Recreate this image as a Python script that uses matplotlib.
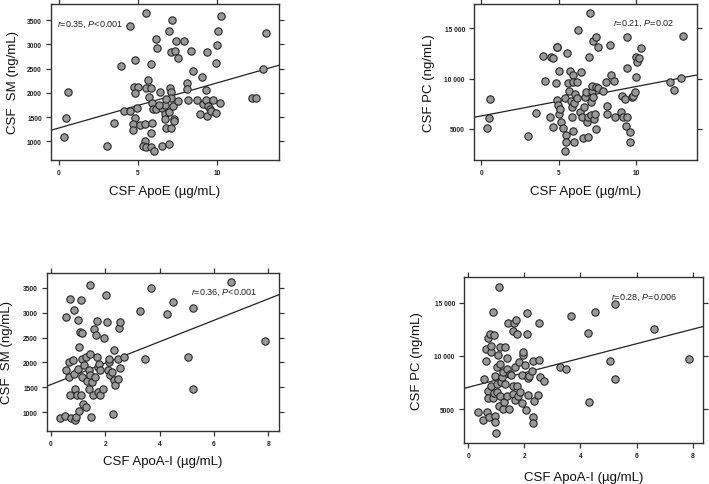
import numpy as np
import matplotlib
matplotlib.use('Agg')
import matplotlib.pyplot as plt

plt.rcParams['font.family'] = ['Liberation Sans', 'DejaVu Sans']
plt.rcParams['mathtext.fontset'] = 'custom'
plt.rcParams['mathtext.rm'] = 'Liberation Sans'
plt.rcParams['mathtext.it'] = 'Liberation Sans:italic'

# --- data ---
# (a) CSF ApoE vs CSF SM
apoe_sm_x = [0.32, 0.46, 0.57, 3.04, 3.46, 3.95, 4.47, 4.09, 4.47, 4.83, 4.73, 5.0, 4.78, 4.96,
             4.79, 4.68, 4.68, 5.1, 5.49, 5.53, 5.63, 5.67, 5.46, 5.8, 5.84, 5.91, 5.95, 5.91,
             5.84, 5.42, 5.32, 5.53, 5.84, 5.99, 6.16, 6.2, 6.12, 6.37, 6.48, 6.54, 6.73, 6.69,
             6.69, 6.75, 6.96, 7.0, 7.05, 7.11, 6.96, 7.07, 6.94, 7.15, 7.11, 7.32, 7.38, 7.53,
             7.21, 7.26, 7.28, 7.53, 7.91, 8.06, 8.12, 8.17, 8.33, 8.48, 8.69, 8.9, 9.05, 9.11,
             9.32, 9.37, 9.28, 9.37, 9.43, 9.54, 9.6, 9.75, 9.92, 9.92, 9.96, 10.06, 10.21, 10.17,
             12.17, 12.45, 12.91, 13.06, 6.33, 6.79]
apoe_sm_y = [1082, 1474, 2010, 897, 1378, 2552, 3376, 1625, 1625, 2683, 2120, 2120, 1996, 1687,
             1474, 1357, 1240, 1336, 3644, 2092, 2270, 1906, 1357, 2593, 2092, 1790, 1666, 1378,
             1172, 1014, 911, 876, 876, 794, 3108, 2916, 1666, 2023, 1680, 911, 1748, 1563,
             1460, 1268, 3266, 2106, 2010, 1886, 1611, 1268, 952, 3500, 2834, 2868, 3060, 2710,
             1735, 1460, 1426, 1824, 3060, 2202, 2078, 1852, 2854, 2449, 1852, 1563, 2319, 1762,
             2065, 2834, 1852, 1529, 1721, 1666, 1632, 1852, 1584, 2607, 2985, 3280, 3576, 1790,
             1886, 1893, 2497, 3232, 1748, 1872]

# (b) CSF ApoE vs CSF PC
apoe_pc_x = [0.34, 0.52, 0.56, 3.03, 3.52, 3.95, 4.1, 4.46, 4.64, 4.42, 4.59, 4.79, 4.85, 4.89,
             4.89, 4.96, 5.02, 5.06, 5.02, 5.13, 5.28, 5.39, 5.45, 5.45, 5.41, 5.52, 5.6, 5.67,
             5.71, 5.75, 5.82, 5.82, 5.88, 5.92, 5.92, 5.97, 5.99, 6.03, 6.18, 6.18, 6.24, 6.35,
             6.42, 6.52, 6.57, 6.61, 6.67, 6.74, 6.78, 6.89, 6.95, 6.89, 7.0, 7.04, 7.06, 7.12,
             7.15, 7.17, 7.21, 7.25, 7.32, 7.36, 7.38, 7.42, 7.53, 7.53, 7.85, 8.03, 8.07, 8.13,
             8.28, 8.39, 8.54, 8.61, 9.03, 9.08, 9.14, 9.29, 9.31, 9.36, 9.36, 9.4, 9.57, 9.61,
             9.68, 9.79, 9.89, 9.96, 9.96, 10.06, 10.17, 10.26, 12.15, 12.4, 12.85, 13.0]
apoe_pc_y = [5066, 6060, 7980, 4272, 6556, 12284, 9801, 12119, 12020, 6225, 5166, 9569, 13178, 13100,
             7914, 7384, 6490, 6987, 10795, 5662, 5066, 8046, 4404, 3676, 2782, 12549, 9569, 8808,
             10795, 7814, 7218, 6159, 4834, 10364, 9702, 7550, 3742, 8477, 9636, 8046, 14834, 6656,
             10695, 6159, 4073, 7152, 8146, 8642, 5662, 4172, 12119, 6159, 16489, 6390, 7649, 8808,
             9238, 13774, 8146, 5993, 6490, 14171, 9139, 5000, 13112, 9040, 8808, 9636, 6490, 7317,
             13377, 10364, 9801, 6159, 6656, 8311, 6159, 7980, 5331, 11026, 14105, 6159, 4735, 3742,
             8146, 8311, 8642, 10132, 12185, 11622, 12020, 13013, 9636, 8874, 10066, 14204]

# (c) CSF ApoA-I vs CSF SM
apoa_sm_x = [0.34, 0.53, 0.56, 0.56, 0.65, 0.65, 0.71, 0.71, 0.73, 0.81, 0.83, 0.86, 0.89, 0.89,
             0.93, 0.95, 0.98, 0.99, 1.02, 1.03, 1.08, 1.11, 1.1, 1.14, 1.15, 1.14, 1.16, 1.2,
             1.3, 1.3, 1.32, 1.38, 1.38, 1.42, 1.42, 1.44, 1.47, 1.5, 1.54, 1.59, 1.63, 1.66,
             1.69, 1.69, 1.71, 1.72, 1.75, 1.81, 1.81, 1.91, 1.93, 2.03, 2.06, 2.08, 2.12, 2.15,
             2.18, 2.24, 2.28, 2.3, 2.32, 2.36, 2.45, 2.48, 2.51, 2.52, 2.54, 2.7, 3.28, 3.46,
             3.67, 4.26, 4.5, 5.05, 5.24, 5.24, 6.61, 7.88]
apoa_sm_y = [879, 913, 1838, 2910, 2005, 1704, 3279, 1348, 879, 2039, 1771, 3058, 1469, 832,
             899, 1335, 1871, 2857, 1020, 2320, 2608, 1335, 3259, 2072, 2595, 1704, 1168, 1938,
             1101, 2106, 1617, 1838, 1469, 3567, 2173, 1751, 899, 1603, 1335, 2675, 1704, 2555,
             2843, 2106, 1905, 1402, 1972, 1838, 1335, 1469, 2488, 3359, 2823, 1838, 2005, 2072,
             1737, 1804, 953, 1637, 2260, 1536, 1670, 2072, 2696, 1885, 2823, 2119, 3031, 2059,
             3493, 2977, 3225, 2119, 1469, 3098, 3627, 2434]

# (d) CSF ApoA-I vs CSF PC
apoa_pc_x = [0.36, 0.51, 0.56, 0.63, 0.63, 0.68, 0.7, 0.71, 0.71, 0.75, 0.77, 0.81, 0.83, 0.83,
             0.87, 0.89, 0.92, 0.93, 0.95, 0.95, 0.95, 0.99, 1.01, 1.01, 1.04, 1.07, 1.1, 1.11,
             1.13, 1.13, 1.15, 1.17, 1.19, 1.23, 1.25, 1.27, 1.31, 1.31, 1.37, 1.39, 1.4, 1.43,
             1.46, 1.49, 1.52, 1.58, 1.61, 1.61, 1.63, 1.67, 1.67, 1.7, 1.73, 1.75, 1.76, 1.82,
             1.85, 1.9, 1.9, 1.94, 1.96, 2.02, 2.06, 2.08, 2.11, 2.12, 2.14, 2.18, 2.26, 2.3,
             2.32, 2.32, 2.35, 2.5, 2.52, 2.52, 2.56, 2.71, 3.27, 3.48, 3.67, 4.26, 4.29, 4.52,
             5.04, 5.25, 5.25, 6.61, 7.87]
apoa_pc_y = [4750, 3969, 7813, 10625, 9531, 4688, 11625, 6719, 6000, 4219, 12031, 7188, 10375, 10938,
             6000, 14125, 6500, 11938, 8125, 4375, 3750, 2719, 6563, 7344, 8906, 10063, 16500, 5313,
             10781, 9219, 6250, 7500, 7969, 8438, 5000, 5625, 10781, 7344, 8750, 9750, 6250, 13063,
             5000, 8281, 8188, 7188, 6406, 12344, 13063, 8906, 5875, 13344, 7125, 12031, 6250, 9375,
             6563, 5563, 8188, 10063, 10313, 9125, 4906, 12031, 14063, 6313, 7875, 8063, 8594, 4219,
             3688, 9531, 5781, 6313, 9594, 13125, 7969, 7656, 8906, 8750, 13750, 12125, 5625, 14125,
             9500, 14844, 7813, 12500, 9688]

# regression lines as drawn in the figure (intercept, slope)
fit_intercepts = [1275, 6297, 1555, 7040]
fit_slopes = [93, 292.6, 215.8, 682]
stat_labels = [r'$r$=0.35, $P$<0.001', r'$r$=0.21, $P$=0.02',
               r'$r$=0.36, $P$<0.001', r'$r$=0.28, $P$=0.006']

sm_ticks = [1000, 1500, 2000, 2500, 3000, 3500]
pc_ticks = [5000, 10000, 15000]
pc_ticklabels = ['5000', '10 000', '15 000']

W, H = 709, 485
C_FACE = '#999999'
C_EDGE = '#262626'
C_FRAME = '#333333'


def frac(x0, x1, y0, y1):
    # pixel box -> figure fraction [left, bottom, width, height]
    return [x0 / W, 1 - y1 / H, (x1 - x0) / W, (y1 - y0) / H]


fig = plt.figure(figsize=(W / 100, H / 100), dpi=100)

panels = [
    dict(box=(51, 279, 5, 161), x=apoe_sm_x, y=apoe_sm_y, xlim=(-0.5, 13.9), ylim=(615, 3830),
         xticks=[0, 5, 10], yticks=sm_ticks, yticklabels=[str(t) for t in sm_ticks],
         xlabel='CSF ApoE (\u00b5g/mL)', ylabel='CSF  SM (ng/mL)', txt=(57, 25), lab=(13, 192)),
    dict(box=(474, 697, 5, 161), x=apoe_pc_x, y=apoe_pc_y, xlim=(-0.47, 13.9), ylim=(1920, 17415),
         xticks=[0, 5, 10], yticks=pc_ticks, yticklabels=pc_ticklabels,
         xlabel='CSF ApoE (\u00b5g/mL)', ylabel='CSF PC (ng/mL)', txt=(613, 24), lab=(429, 192)),
    dict(box=(47, 279, 274, 432), x=apoa_sm_x, y=apoa_sm_y, xlim=(-0.15, 8.39), ylim=(618, 3802),
         xticks=[0, 2, 4, 6, 8], yticks=sm_ticks, yticklabels=[str(t) for t in sm_ticks],
         xlabel='CSF ApoA-I (\u00b5g/mL)', ylabel='CSF  SM (ng/mL)', txt=(191, 293), lab=(7, 462)),
    dict(box=(464, 703, 278, 444), x=apoa_pc_x, y=apoa_pc_y, xlim=(-0.15, 8.37), ylim=(1810, 17400),
         xticks=[0, 2, 4, 6, 8], yticks=pc_ticks, yticklabels=pc_ticklabels,
         xlabel='CSF ApoA-I (\u00b5g/mL)', ylabel='CSF PC (ng/mL)', txt=(611, 298), lab=(417, 478)),
]

for i, p in enumerate(panels):
    x0, x1, y0, y1 = p['box']
    ax = fig.add_axes(frac(x0, x1, y0, y1))
    ax.scatter(p['x'], p['y'], s=28, facecolor=C_FACE, edgecolor=C_EDGE, linewidth=0.8, zorder=3)
    xs = np.array(p['xlim'])
    ax.plot(xs, fit_intercepts[i] + fit_slopes[i] * xs, color='#222222', lw=0.9, zorder=2)
    ax.set_xlim(p['xlim'])
    ax.set_ylim(p['ylim'])
    ax.set_xticks(p['xticks'])
    ax.set_xticklabels([str(t) for t in p['xticks']])
    ax.set_yticks(p['yticks'])
    ax.set_yticklabels(p['yticklabels'])
    ax.tick_params(top=True, right=True, direction='out', length=3.5, width=0.9,
                   color=C_FRAME, labelsize=4.8, pad=3, labelcolor='#222222')
    for lbl in ax.get_xticklabels() + ax.get_yticklabels():
        lbl.set_fontweight('bold')
    for sp in ax.spines.values():
        sp.set_linewidth(1.0)
        sp.set_color(C_FRAME)

    # stats annotation
    tx, ty = p['txt']
    fig.text(tx / W, 1 - ty / H, stat_labels[i], fontsize=6.5, ha='left', va='center',
             color='#222222')

    # axis labels
    lx, ly = p['lab']
    cx = (x0 + x1) / 2
    cy = (y0 + y1) / 2
    fig.text(cx / W, 1 - ly / H, p['xlabel'], fontsize=9.5, ha='center', va='center',
             color='#111111')
    fig.text(lx / W, 1 - cy / H, p['ylabel'], fontsize=9.5, ha='center', va='center',
             rotation=90, color='#111111')

fig.savefig('out.png', dpi=100, facecolor='white')
